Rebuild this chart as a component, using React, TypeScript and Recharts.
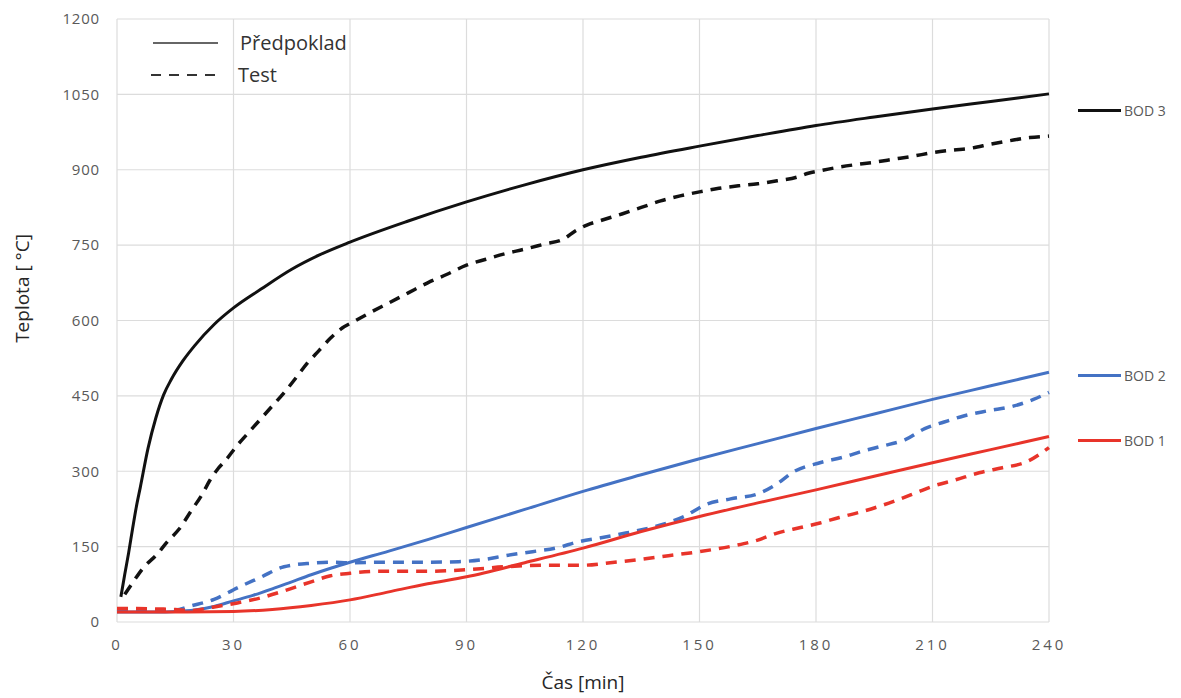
import { LineChart, Line, XAxis, YAxis, CartesianGrid, Label } from 'recharts'

// BOD 3 – předpoklad (solid) and test (dashed)
const casBod3Pred = [1, 2, 3, 4, 5, 6, 8, 10, 12, 14, 17, 20, 25, 30, 37, 45, 52, 60, 75, 90, 105, 120, 135, 150, 165, 180, 195, 210, 225, 240]
const tepBod3Pred = [50, 95, 138, 185, 230, 268, 346, 406, 452, 483, 520, 550, 592, 625, 662, 702, 730, 756, 798, 836, 870, 900, 925, 947, 968, 988, 1005, 1021, 1036, 1051]

const casBod3Test = [2, 4, 7, 10, 13, 16, 19, 22, 24, 26, 28, 31, 34, 37, 40, 43, 46, 49, 52, 55, 58, 61, 65, 70, 75, 80, 85, 90, 95, 100, 105, 110, 115, 118, 121, 125, 130, 135, 140, 145, 150, 155, 160, 165, 170, 175, 178, 181, 185, 190, 195, 200, 205, 210, 215, 220, 225, 230, 235, 240]
const tepBod3Test = [55, 78, 110, 132, 160, 185, 220, 255, 283, 305, 322, 352, 378, 404, 430, 456, 485, 515, 540, 565, 585, 598, 615, 635, 655, 675, 692, 710, 722, 733, 742, 752, 762, 778, 790, 800, 812, 825, 838, 848, 856, 863, 868, 872, 878, 885, 893, 898, 904, 910, 915, 921, 927, 934, 939, 943, 951, 958, 964, 967]

// BOD 2
const casBod2Pred = [0, 10, 15, 20, 25, 30, 35, 40, 45, 50, 55, 60, 70, 80, 90, 105, 120, 135, 150, 165, 180, 195, 210, 225, 240]
const tepBod2Pred = [20, 20, 21, 24, 31, 42, 53, 66, 80, 94, 107, 119, 141, 164, 188, 224, 260, 293, 325, 355, 385, 414, 443, 470, 497]

const casBod2Test = [0, 5, 10, 15, 19, 25, 31, 37, 43, 50, 55, 60, 70, 80, 88, 95, 100, 107, 113, 119, 125, 131, 140, 146, 152, 158, 165, 170, 174, 181, 187, 192, 197, 203, 208, 213, 218, 224, 231, 236, 240]
const tepBod2Test = [25, 24, 23, 24, 32, 45, 68, 89, 110, 117, 119, 118, 119, 119, 120, 125, 132, 140, 147, 160, 168, 177, 193, 210, 235, 245, 255, 275, 298, 317, 328, 340, 350, 363, 385, 398, 410, 420, 430, 443, 457]

// BOD 1
const casBod1Pred = [0, 15, 30, 40, 50, 60, 70, 80, 90, 105, 120, 135, 150, 165, 180, 195, 210, 225, 240]
const tepBod1Pred = [20, 20, 21, 25, 33, 44, 60, 76, 90, 118, 147, 180, 210, 237, 263, 290, 317, 343, 369]

const casBod1Test = [0, 5, 10, 15, 19, 25, 31, 37, 43, 50, 55, 60, 68, 80, 90, 100, 110, 120, 127, 133, 142, 150, 159, 165, 170, 176, 181, 186, 192, 197, 201, 206, 210, 216, 222, 228, 234, 240]
const tepBod1Test = [27, 27, 26, 25, 23, 30, 38, 48, 62, 80, 92, 97, 101, 101, 104, 110, 113, 113, 118, 123, 132, 140, 152, 163, 177, 188, 197, 208, 220, 232, 243, 258, 270, 283, 297, 307, 318, 347]

const xTicks = [0, 30, 60, 90, 120, 150, 180, 210, 240]
const yTicks = [0, 150, 300, 450, 600, 750, 900, 1050, 1200]

const zip = (t: number[], v: number[]) => t.map((x, i) => ({ t: x, v: v[i] }))

const BLACK = '#111111'
const BLUE = '#4472C4'
const RED = '#E8342A'
const FONT = '"Open Sans", "DejaVu Sans", sans-serif'

const series = [
  { key: 'b3p', data: zip(casBod3Pred, tepBod3Pred), color: BLACK, dash: undefined, w: 3 },
  { key: 'b3t', data: zip(casBod3Test, tepBod3Test), color: BLACK, dash: '11 8', w: 3.5 },
  { key: 'b2p', data: zip(casBod2Pred, tepBod2Pred), color: BLUE, dash: undefined, w: 3 },
  { key: 'b2t', data: zip(casBod2Test, tepBod2Test), color: BLUE, dash: '11 8', w: 3.5 },
  { key: 'b1p', data: zip(casBod1Pred, tepBod1Pred), color: RED, dash: undefined, w: 3 },
  { key: 'b1t', data: zip(casBod1Test, tepBod1Test), color: RED, dash: '11 8', w: 3.5 },
]

const bodLegend = [
  { name: 'BOD 3', color: BLACK, top: 110 },
  { name: 'BOD 2', color: BLUE, top: 375 },
  { name: 'BOD 1', color: RED, top: 440 },
]

export default function App() {
  return (
    <div style={{ position: 'absolute', left: 0, top: 0, width: 1181, height: 698, background: '#fff', fontFamily: FONT }}>
      <LineChart width={1181} height={698} margin={{ top: 19, right: 132, bottom: 0, left: 0 }}>
        <CartesianGrid stroke="#dcdcdc" strokeWidth={1.2} />
        <XAxis
          type="number"
          dataKey="t"
          domain={[0, 240]}
          ticks={xTicks}
          height={76}
          axisLine={false}
          tickLine={false}
          tickSize={0}
          tickMargin={17}
          tick={{ fontSize: 15, fill: '#595959', fontFamily: FONT, letterSpacing: 3 }}
        >
          <Label value="Čas [min]" position="insideBottom" offset={9} style={{ fontSize: 19, fill: '#262626', fontFamily: FONT }} />
        </XAxis>
        <YAxis
          type="number"
          domain={[0, 1200]}
          ticks={yTicks}
          width={117}
          axisLine={false}
          tickLine={false}
          tickSize={0}
          tickMargin={17}
          tick={{ fontSize: 15, fill: '#595959', fontFamily: FONT, letterSpacing: 0.8 }}
        >
          <Label value="Teplota [ °C]" position="center" angle={-90} dx={-36} dy={-32} style={{ fontSize: 19, fill: '#262626', fontFamily: FONT, textAnchor: 'middle' }} />
        </YAxis>
        {series.map(s => (
          <Line
            key={s.key}
            data={s.data}
            dataKey="v"
            type="monotone"
            stroke={s.color}
            strokeWidth={s.w}
            strokeDasharray={s.dash}
            dot={false}
            activeDot={false}
            isAnimationActive={false}
          />
        ))}
      </LineChart>

      {/* line style legend, top left */}
      <svg style={{ position: 'absolute', left: 140, top: 25 }} width={240} height={70}>
        <line x1={13} y1={18} x2={78} y2={18} stroke="#333" strokeWidth={1.5} />
        <line x1={11} y1={50} x2={80} y2={50} stroke="#333" strokeWidth={1.8} strokeDasharray="10 8" />
        <text x={100} y={25} fontSize={20} fill="#333" fontFamily={FONT}>Předpoklad</text>
        <text x={98} y={57} fontSize={20} fill="#333" fontFamily={FONT}>Test</text>
      </svg>

      {/* BOD legend, right */}
      {bodLegend.map(b => (
        <div key={b.name} style={{ position: 'absolute', left: 1078, top: b.top - 10, height: 20, display: 'flex', alignItems: 'center' }}>
          <div style={{ width: 43, height: 3, background: b.color }} />
          <span style={{ marginLeft: 3, fontSize: 14, color: '#595959', fontFamily: FONT }}>{b.name}</span>
        </div>
      ))}
    </div>
  )
}
